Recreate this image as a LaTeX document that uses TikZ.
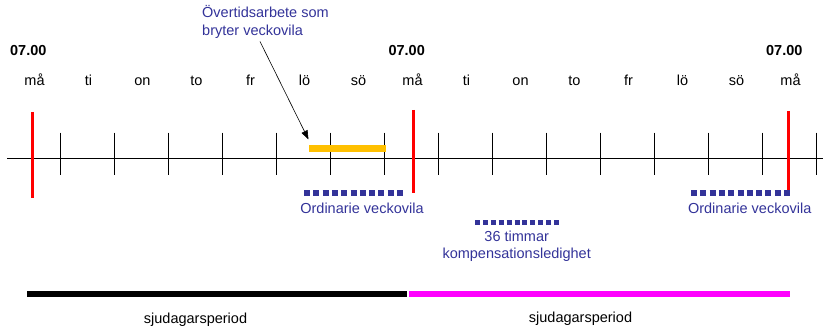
\documentclass[tikz,border=0pt]{standalone}
\usepackage{fontspec}
\setmainfont{Liberation Sans}
\usetikzlibrary{arrows.meta}
\definecolor{txtblue}{HTML}{333399}
\definecolor{dotblue}{HTML}{333399}
\definecolor{barorange}{HTML}{FFC000}
\definecolor{redline}{HTML}{FF0000}
\definecolor{magbar}{HTML}{FF00FF}
\tikzset{
  lbl/.style={font=\fontsize{14.5}{17.5}\selectfont, inner sep=0pt, anchor=center},
  daylbl/.style={lbl, anchor=base},
  bluelbl/.style={lbl, text=txtblue},
  timelbl/.style={lbl, font=\fontsize{14.5}{17.5}\selectfont\bfseries},
  tickline/.style={line width=1.5pt, black},
  redmark/.style={line width=3pt, redline},
  restdots/.style={line width=6pt, dotblue, dash pattern=on 6pt off 3.3pt},
  compdots/.style={line width=5.5pt, dotblue, dash pattern=on 5pt off 2.9pt},
  periodbar/.style={line width=6.5pt}
}
\begin{document}
\begin{tikzpicture}[x=1pt,y=-1pt]
\useasboundingbox (0,0) rectangle (823,328);
% main axis
\coordinate (axL) at (7,158.7);
\coordinate (axR) at (823,158.7);
\draw[tickline] (axL) -- (axR);
% ticks
\foreach \k in {0,...,14}{
  \coordinate (tt\k) at ({60.7+54*\k},132.7);
  \coordinate (tb\k) at ({60.7+54*\k},175);
  \draw[tickline] (tt\k) -- (tb\k);
}
% day labels
\foreach \d [count=\i from 0] in {må,ti,on,to,fr,lö,sö,må,ti,on,to,fr,lö,sö,må}{
  \node[daylbl] (day\i) at ({34.5+54*\i},85.5) {\d};
}
% time labels
\node[timelbl] (t1) at (28.3,51) {07.00};
\node[timelbl] (t2) at (406.7,51) {07.00};
\node[timelbl] (t3) at (784.3,51) {07.00};
% red week boundaries
\coordinate (r1t) at (32.3,112); \coordinate (r1b) at (32.3,197.7);
\coordinate (r2t) at (413.3,110); \coordinate (r2b) at (413.3,193.5);
\coordinate (r3t) at (788.7,111); \coordinate (r3b) at (788.7,193.5);
\draw[redmark] (r1t) -- (r1b);
\draw[redmark] (r2t) -- (r2b);
\draw[redmark] (r3t) -- (r3b);
% overtime bar
\coordinate (obL) at (309,148.5);
\coordinate (obR) at (385.7,148.5);
\draw[line width=6.5pt, barorange] (obL) -- (obR);
% overtime label and arrow
\node[bluelbl, anchor=north west, align=left] (over) at (202,5.5) {Övertidsarbete som\\bryter veckovila};
\coordinate (arS) at (260,41.5);
\coordinate (arE) at (308.5,139.5);
\draw[line width=0.6pt, -{Triangle[length=9pt,width=6.5pt]}] (arS) -- (arE);
% rest dotted bars
\coordinate (d1L) at (304,193.3); \coordinate (d1R) at (403.3,193.3);
\draw[restdots] (d1L) -- (d1R);
\node[bluelbl] (ord1) at (362,208.5) {Ordinarie veckovila};
\coordinate (d2L) at (691,193.3); \coordinate (d2R) at (791.7,193.3);
\draw[restdots] (d2L) -- (d2R);
\node[bluelbl] (ord2) at (749.7,208.5) {Ordinarie veckovila};
% compensation
\coordinate (d3L) at (475,222.7); \coordinate (d3R) at (559,222.7);
\draw[compdots] (d3L) -- (d3R);
\node[bluelbl, align=center] (comp) at (516.7,246.2) {36 timmar\\kompensationsledighet};
% seven-day periods
\coordinate (p1L) at (27.3,294); \coordinate (p1R) at (407.3,294);
\coordinate (p2L) at (409.3,294); \coordinate (p2R) at (790,294);
\draw[periodbar, black] (p1L) -- (p1R);
\draw[periodbar, magbar] (p2L) -- (p2R);
\node[lbl] (s1) at (195.5,320) {sjudagarsperiod};
\node[lbl] (s2) at (580.5,318.7) {sjudagarsperiod};
\end{tikzpicture}
\end{document}
